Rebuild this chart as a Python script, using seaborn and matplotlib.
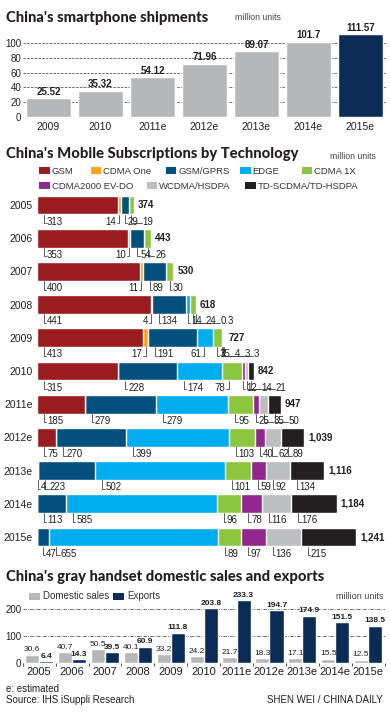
import numpy as np
import pandas as pd
import matplotlib
matplotlib.use("Agg")
import matplotlib.pyplot as plt
import seaborn as sns
from matplotlib.patches import Rectangle
from matplotlib.lines import Line2D

sns.set_theme(style="white")
plt.rcParams["font.family"] = ["Liberation Sans", "DejaVu Sans"]

# ---------------- data ----------------
smart_years = ["2009", "2010", "2011e", "2012e", "2013e", "2014e", "2015e"]
smart_values = [25.52, 35.32, 54.12, 71.96, 89.07, 101.7, 111.57]
smart_labels = ["25.52", "35.32", "54.12", "71.96", "89.07", "101.7", "111.57"]
smart_ticks = [0, 20, 40, 60, 80, 100]

sub_years = ["2005", "2006", "2007", "2008", "2009", "2010",
             "2011e", "2012e", "2013e", "2014e", "2015e"]
technologies = ["GSM", "CDMA One", "GSM/GPRS", "EDGE", "CDMA 1X",
                "CDMA2000 EV-DO", "WCDMA/HSDPA", "TD-SCDMA/TD-HSDPA"]
gsm = [313, 353, 400, 441, 413, 315, 185, 75, 4, 0, 0]
cdma_one = [14, 10, 11, 4, 17, 0, 0, 0, 0, 0, 0]
gsm_gprs = [29, 54, 89, 134, 191, 228, 279, 270, 223, 113, 47]
edge = [0, 0, 0, 14, 61, 174, 279, 399, 502, 585, 655]
cdma_1x = [19, 26, 30, 24, 35, 78, 95, 103, 101, 96, 89]
cdma2000 = [0, 0, 0, 0.3, 4, 12, 25, 40, 59, 78, 97]
wcdma = [0, 0, 0, 0, 3, 14, 35, 62, 92, 116, 136]
td_scdma = [0, 0, 0, 0, 3, 21, 50, 89, 134, 176, 215]
sub_totals = ["374", "443", "530", "618", "727", "842",
              "947", "1,039", "1,116", "1,184", "1,241"]

gray_years = ["2005", "2006", "2007", "2008", "2009", "2010",
              "2011e", "2012e", "2013e", "2014e", "2015e"]
domestic = [30.6, 40.7, 50.5, 40.1, 33.2, 24.2, 21.7, 18.3, 17.1, 15.5, 12.5]
exports = [6.4, 14.3, 39.5, 60.9, 111.8, 203.8, 233.3, 194.7, 174.9, 151.5, 138.5]
gray_ticks = [0, 100, 200]

# ---------------- style ----------------
W, H = 390, 712
TXT = "#231f20"
GRAY = "#b6b7b9"
NAVY = "#0c2c58"
tech_colors = ["#9b1c20", "#f9a51a", "#03507f", "#00aeef",
               "#8cc63e", "#92278f", "#bcbec0", "#231f20"]
TITLE_KW = dict(fontsize=10.6, fontweight="black", family=["Lato", "Liberation Sans"])

fig = plt.figure(figsize=(W / 100, H / 100), dpi=100)
fig.patch.set_facecolor("white")


def fx(x):
    return x / W


def fy(y):
    return 1 - y / H


def ftext(x, y, s, **kw):
    kw.setdefault("color", TXT)
    kw.setdefault("va", "baseline")
    fig.text(fx(x), fy(y), s, **kw)


def fpatch(x, y, w, h, c):
    fig.add_artist(Rectangle((fx(x), fy(y + h)), w / W, h / H,
                             transform=fig.transFigure, color=c, lw=0))


# ================= chart 1: smartphone shipments =================
ftext(6, 22, "China's smartphone shipments", **TITLE_KW)
ftext(235, 20, "million units", fontsize=6.3, color="#444444")

ax1 = fig.add_axes([fx(22.5), fy(117), 364 / W, (117 - 30) / H])
sns.barplot(x=smart_years, y=smart_values, hue=smart_years,
            palette=[GRAY] * 6 + [NAVY], legend=False, width=0.865,
            saturation=1, ax=ax1)
for c, lab in zip(ax1.containers, smart_labels):
    ax1.bar_label(c, labels=[lab], padding=1, fontsize=7, fontweight="bold", color=TXT)
ax1.set_ylim(0, 87 / 0.74)
ax1.set_xlim(-0.5, 6.5)
ax1.set_yticks(smart_ticks)
ax1.yaxis.grid(True, linestyle=(0, (3, 1.5)), color="#555555", lw=0.6)
ax1.set_axisbelow(True)
ax1.tick_params(axis="y", length=0, pad=1, labelsize=7, colors=TXT)
ax1.tick_params(axis="x", length=0, pad=3.5, labelsize=7.5, colors=TXT)
for s in ax1.spines.values():
    s.set_visible(False)
ax1.set_xlabel("")
ax1.set_ylabel("")
ax1.set_facecolor("none")

# ================= chart 2: subscriptions =================
ftext(6, 158, "China's Mobile Subscriptions by Technology", **TITLE_KW)
ftext(330, 159, "million units", fontsize=6.3, color="#444444")

legend_pos = [(39.3, 167), (90.7, 167), (165.7, 167), (240, 167), (301.7, 167),
              (39.3, 182), (146.7, 182), (245, 182)]
for (lx, ly), name, col in zip(legend_pos, technologies, tech_colors):
    fpatch(lx, ly, 10.5, 7, col)
    ftext(lx + 12.5, ly + 6.8, name, fontsize=6.8, color="#333333")

ax_left, ax_right = 37, 385
ppu = 0.2575  # pixels per unit
xmax = (ax_right - ax_left) / ppu
ax2 = fig.add_axes([fx(ax_left), fy(553.6), (ax_right - ax_left) / W, 365.2 / H])
segs = [gsm, cdma_one, gsm_gprs, edge, cdma_1x, cdma2000, wcdma, td_scdma]
cum = np.cumsum(np.array(segs, dtype=float), axis=0)
for k in reversed(range(len(segs))):
    sns.barplot(x=cum[k], y=sub_years, orient="y", color=tech_colors[k],
                width=0.57, saturation=1, ax=ax2)
ax2.set_xlim(0, xmax)
ax2.set_ylim(10.5, -0.5)
ax2.set_xlabel("")
ax2.set_ylabel("")
ax2.set_xticks([])
ax2.tick_params(axis="y", length=0, pad=3, labelsize=7.5, colors=TXT)
for s in ax2.spines.values():
    s.set_visible(False)
ax2.set_facecolor("none")

fig.canvas.draw()
renderer = fig.canvas.get_renderer()
GAP = 4.0
LEAD = "#444444"
for r in range(len(sub_years)):
    items = []
    start = 0.0
    for k in range(len(segs)):
        v = segs[k][r]
        if v <= 0:
            continue
        w_px = v * ppu
        anchor = start * ppu + min(7.0, max(w_px / 2, 0.5))
        items.append((v, anchor))
        start += v
    prev_end = -1e9
    for i, (v, anchor) in enumerate(items):
        t = ax2.text(0, r + 0.5, f"{v:g}", fontsize=7, va="center", ha="left",
                     color=TXT, clip_on=False)
        tw = t.get_window_extent(renderer).width
        nxt = items[i + 1][1] if i + 1 < len(items) else 1e9
        right_x = max(anchor + 3, prev_end + GAP)
        left_x = anchor - 3 - tw
        if right_x + tw + 3 > nxt and left_x >= max(prev_end + GAP, 0):
            t.set_x(left_x / ppu)
            ax2.add_line(Line2D([anchor / ppu, anchor / ppu, (left_x + tw + 0.8) / ppu],
                                [r + 0.29, r + 0.55, r + 0.55], color=LEAD,
                                lw=0.6, clip_on=False))
            prev_end = anchor
        else:
            t.set_x(right_x / ppu)
            ax2.add_line(Line2D([anchor / ppu, anchor / ppu, (right_x - 0.8) / ppu],
                                [r + 0.29, r + 0.55, r + 0.55], color=LEAD,
                                lw=0.6, clip_on=False))
            prev_end = right_x + tw
    ax2.text((cum[-1][r] * ppu + 4) / ppu, r, sub_totals[r], fontsize=7,
             fontweight="bold", va="center", ha="left", color=TXT, clip_on=False)

# ================= chart 3: gray handsets =================
ftext(6, 581, "China's gray handset domestic sales and exports", **TITLE_KW)
fpatch(29, 593, 11, 6.5, GRAY)
ftext(43, 599, "Domestic sales", fontsize=7, color="#333333")
fpatch(113, 593, 11, 6.5, NAVY)
ftext(127, 599, "Exports", fontsize=7, color="#333333")
ftext(383, 599, "million units", fontsize=6.5, color="#444444", ha="right")

gdf = pd.DataFrame({
    "year": gray_years * 2,
    "series": ["Domestic sales"] * len(gray_years) + ["Exports"] * len(gray_years),
    "value": domestic + exports,
})
ax3 = fig.add_axes([fx(22.7), fy(663), 11 * 32.9 / W, 65 / H])
sns.barplot(data=gdf, x="year", y="value", hue="series",
            palette={"Domestic sales": GRAY, "Exports": NAVY},
            width=0.86, gap=0, saturation=1, legend=False, ax=ax3)
ax3.bar_label(ax3.containers[0], labels=[f"{v:.1f}" for v in domestic],
              padding=1, fontsize=6, color=TXT)
ax3.bar_label(ax3.containers[1], labels=[f"{v:.1f}" for v in exports],
              padding=1, fontsize=6, fontweight="bold", color=TXT)
ax3.set_xlim(-0.5, 10.5)
ax3.set_ylim(0, 65 / 0.27)
ax3.set_yticks(gray_ticks)
ax3.yaxis.grid(True, linestyle=(0, (4, 1.5, 1, 1.5)), color="#555555", lw=0.6)
ax3.yaxis.get_gridlines()[0].set_visible(False)
ax3.set_axisbelow(True)
ax3.set_xticks(np.arange(-0.5, 11, 1), minor=True)
ax3.tick_params(axis="x", which="major", length=0, pad=3, labelsize=8, colors=TXT)
ax3.tick_params(axis="x", which="minor", length=2.5, width=0.6, color="#333333",
                direction="out", bottom=True)
ax3.tick_params(axis="y", length=0, pad=1, labelsize=7, colors=TXT)
for s in ax3.spines.values():
    s.set_visible(False)
ax3.set_xlabel("")
ax3.set_ylabel("")
ax3.set_facecolor("none")

# ================= footer =================
ftext(6, 692, "e: estimated", fontsize=7)
ftext(6, 703, "Source: IHS iSuppli Research", fontsize=7)
ftext(383, 703, "SHEN WEI / CHINA DAILY", fontsize=7, ha="right")

fig.savefig("out.png", dpi=100, facecolor="white")
